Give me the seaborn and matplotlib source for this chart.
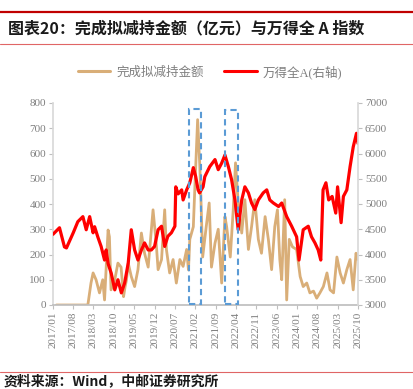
import matplotlib
matplotlib.use("Agg")
import matplotlib.pyplot as plt
import matplotlib.dates as mdates
from matplotlib.lines import Line2D
from matplotlib.patches import Rectangle
import seaborn as sns
import pandas as pd

sns.set_theme(style="white")
plt.rcParams['font.family'] = ['Liberation Serif', 'Noto Sans CJK SC', 'DejaVu Sans']

# ---- data ----
index_dates = ["2017-01-01","2017-03-10","2017-05-01","2017-05-22","2017-08-01","2017-09-18",
    "2017-11-10","2017-12-15","2018-01-20","2018-02-25","2018-03-13","2018-04-15","2018-05-20",
    "2018-06-25","2018-07-12","2018-08-01","2018-09-03","2018-10-10","2018-11-12","2018-12-18",
    "2019-01-22","2019-02-28","2019-04-01","2019-05-06","2019-06-10","2019-07-16","2019-08-18",
    "2019-09-25","2019-10-28","2019-12-01","2020-01-07","2020-02-12","2020-03-16","2020-04-18",
    "2020-05-25","2020-07-01","2020-07-10","2020-08-04","2020-09-10","2020-09-25",
    "2020-11-01","2020-12-04","2021-01-10","2021-02-03","2021-03-01","2021-03-16","2021-04-22",
    "2021-05-10","2021-07-01","2021-08-25","2021-09-28","2021-11-03","2021-12-07","2022-01-12",
    "2022-02-15","2022-03-22","2022-04-25","2022-06-01","2022-07-04","2022-08-10","2022-09-12",
    "2022-10-16","2022-11-22","2023-01-12","2023-02-18","2023-03-22","2023-04-28","2023-06-22",
    "2023-07-25","2023-09-15","2023-11-06","2023-12-28","2024-01-22","2024-03-06","2024-04-28",
    "2024-06-01","2024-07-07","2024-08-10","2024-09-06","2024-09-30","2024-10-30","2024-11-28",
    "2025-01-03","2025-02-10","2025-03-01","2025-04-07","2025-05-01","2025-06-06","2025-07-10",
    "2025-08-12","2025-09-15","2025-10-01"]
index_values = [4400,4530,4150,4130,4430,4650,4750,4490,4750,4430,4550,4350,4160,
    3890,4090,3820,3630,3300,3500,3240,
    3440,3830,4490,4090,3890,4090,4230,
    4090,4090,4160,4490,4560,4160,4360,
    4430,4560,5340,5200,5280,5080,
    5280,5420,5720,5550,5280,5220,5340,
    5540,5740,5880,5680,5810,5970,5740,
    5480,5080,4490,5080,5340,5220,5020,
    4890,5080,5220,5280,5080,5020,4950,
    5020,4750,4560,4350,3890,4490,4560,
    4350,4230,4090,3890,5280,5420,5080,
    5150,4820,5340,4630,5150,5280,5740,
    6130,6400,6200]

reduce_dates = ["2017-02-06","2018-01-01","2018-02-03","2018-02-25","2018-03-28","2018-05-03",
    "2018-06-06","2018-06-25","2018-08-01","2018-08-15","2018-09-01","2018-10-10","2018-11-12",
    "2018-12-15","2019-01-10","2019-01-25","2019-02-10","2019-02-28","2019-04-01","2019-05-06",
    "2019-06-10","2019-07-16","2019-08-18","2019-09-25","2019-11-15","2019-12-18","2020-01-07",
    "2020-02-12","2020-03-16","2020-04-03","2020-05-07","2020-06-12","2020-07-16","2020-08-22",
    "2020-09-25","2020-11-01","2020-11-20","2020-12-04","2021-01-10","2021-01-28","2021-02-24",
    "2021-03-19","2021-04-01","2021-04-18","2021-05-25","2021-06-25","2021-07-19","2021-08-25",
    "2021-09-28","2021-11-03","2021-12-07","2021-12-25","2022-02-01","2022-03-04","2022-03-28",
    "2022-04-25","2022-06-01","2022-07-04","2022-08-10","2022-09-12","2022-10-16","2022-11-22",
    "2022-12-25","2023-02-01","2023-03-07","2023-04-10","2023-05-13","2023-06-10","2023-07-05",
    "2023-07-25","2023-08-25","2023-09-15","2023-10-12","2023-11-15","2023-12-28","2024-02-03",
    "2024-03-06","2024-04-12","2024-05-15","2024-06-22","2024-07-25","2024-08-28","2024-10-03",
    "2024-11-10","2024-12-12","2025-01-18","2025-02-22","2025-03-28","2025-05-01","2025-06-06",
    "2025-07-10","2025-08-12","2025-09-10","2025-10-01"]
reduce_values = [0,0,87,127,100,48,
    100,20,297,270,60,100,166,
    150,33,70,100,166,113,73,
    140,285,205,150,377,245,140,
    180,377,220,127,180,87,180,
    153,220,139,260,310,484,734,
    550,404,190,310,404,150,245,
    300,87,350,310,190,377,563,
    404,285,417,220,310,417,260,
    205,350,260,140,310,377,180,
    100,417,20,260,230,220,113,
    73,87,48,55,27,48,73,
    127,60,48,190,127,87,140,
    180,60,205,180]

box_starts = ["2020-11-28", "2021-12-07"]
box_ends = ["2021-04-01", "2022-04-20"]
box_tops = [778, 772]

tick_labels_dates = pd.date_range("2017-01-01", "2025-10-01", freq="7MS")

name_reduce = "完成拟减持金额"
name_index = "万得全A(右轴)"
title = "图表20：完成拟减持金额（亿元）与万得全 A 指数"
source = "资料来源：Wind，中邮证券研究所"

df_idx = pd.DataFrame({"date": pd.to_datetime(index_dates), "value": index_values})
df_red = pd.DataFrame({"date": pd.to_datetime(reduce_dates), "value": reduce_values})

TAN = "#D9AE78"
RED = "#FF0000"
GRAY = "#7F7F7F"

fig = plt.figure(figsize=(4.13, 3.89), dpi=100)
ax = fig.add_axes([53/413, 1-305/389, (358-53)/413, (305-103)/389])
ax2 = ax.twinx()

sns.lineplot(data=df_red, x="date", y="value", ax=ax, color=TAN, linewidth=2.0)
sns.lineplot(data=df_idx, x="date", y="value", ax=ax2, color=RED, linewidth=2.3)

ax.set_xlim(pd.Timestamp("2017-01-01"), pd.Timestamp("2025-10-01"))
ax.set_ylim(0, 800)
ax2.set_ylim(3000, 7000)
ax.set_yticks(range(0, 801, 100))
ax2.set_yticks(range(3000, 7001, 500))
ax.set_xticks(tick_labels_dates)
ax.set_xticklabels([d.strftime("%Y/%m") for d in tick_labels_dates], rotation=90)
for a in (ax, ax2):
    a.set_xlabel("")
    a.set_ylabel("")
    a.tick_params(axis="both", labelsize=8, labelcolor=GRAY, colors="#BFBFBF",
                  length=3, width=0.8, direction="out", pad=2)
    for s in a.spines.values():
        s.set_visible(False)
ax.spines["left"].set_visible(True)
ax.spines["left"].set_color("#D9D9D9")
ax.spines["bottom"].set_visible(True)
ax.spines["bottom"].set_color("#BFBFBF")
ax2.spines["right"].set_visible(True)
ax2.spines["right"].set_color("#D9D9D9")
ax.tick_params(axis="y", left=True)
ax2.tick_params(axis="y", right=True)
ax.tick_params(axis="x", bottom=True)

for s, e, t in zip(box_starts, box_ends, box_tops):
    x0 = mdates.date2num(pd.Timestamp(s))
    x1 = mdates.date2num(pd.Timestamp(e))
    ax2.add_patch(Rectangle((x0, 3000 + 4 * 5), x1 - x0, (t - 4) * 5, fill=False,
                            edgecolor="#5B9BD5", linewidth=1.5, linestyle=(0, (3, 2)),
                            clip_on=False, zorder=5))

# legend
handles = [Line2D([], [], color=TAN, linewidth=2.2), Line2D([], [], color=RED, linewidth=2.2)]
fig.legend(handles, [name_reduce, name_index], loc="center", bbox_to_anchor=(210/413, 1-72/389),
           ncol=2, frameon=False, fontsize=9, labelcolor=GRAY, handlelength=2.6,
           columnspacing=1.6, handletextpad=0.5)

# header / footer decoration
fig.add_artist(Line2D([0, 1], [1-12/389, 1-12/389], color="#C00000", linewidth=1.6))
fig.add_artist(Line2D([0, 1], [1-44/389, 1-44/389], color="#E06666", linewidth=0.8))
fig.text(8/413, 1-28/389, title, fontsize=11.5, fontweight="bold", color="#1A1A1A",
         va="center", ha="left", family=["Noto Sans CJK SC", "DejaVu Sans"])
fig.add_artist(Line2D([0, 1], [1-372/389, 1-372/389], color="#E06666", linewidth=0.8))
fig.text(4/413, 1-381/389, source, fontsize=10, fontweight="bold", color="#1A1A1A",
         va="center", ha="left", family=["Noto Sans CJK SC", "DejaVu Sans"])

fig.savefig("out.png", dpi=100)
